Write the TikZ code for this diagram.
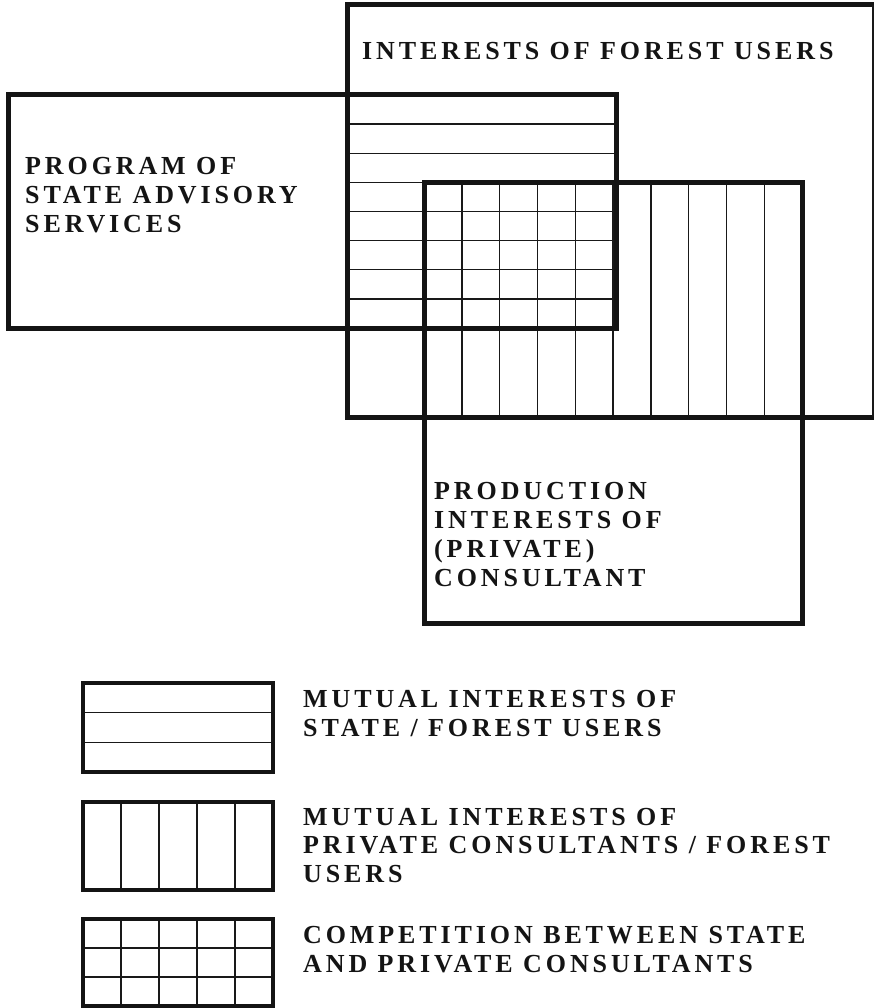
\documentclass[tikz,border=0pt]{standalone}
\usepackage{fontspec}
\newfontfamily\lblfont[LetterSpace=15]{Liberation Serif}
\begin{document}
\begin{tikzpicture}[x=1pt,y=-1pt,
  frame/.style={line width=5pt, draw=black!92},
  keyframe/.style={line width=3.6pt, draw=black!92},
  hatch/.style={line width=1.4pt, draw=black!90},
  lbl/.style={anchor=base west, inner sep=0pt, text=black!92,
    font=\lblfont\bfseries\fontsize{26}{29}\selectfont}]
\useasboundingbox (0,0) rectangle (874,1008);

% corners of the three overlapping areas
\coordinate (forestNW) at (347,5);   \coordinate (forestSE) at (879,417);
\coordinate (stateNW)  at (8,95);    \coordinate (stateSE)  at (616,328);
\coordinate (privNW)   at (424,183); \coordinate (privSE)   at (802,623);

% horizontal hatching: state / forest users
\foreach \k in {1,...,7}
  \draw[hatch] (347,95+\k*29.125) -- (616,95+\k*29.125);
% vertical hatching: private consultants / forest users
\foreach \k in {1,...,9}
  \draw[hatch] (424+\k*37.8,183) -- (424+\k*37.8,417);

% outlines
\draw[frame] (forestNW) rectangle (forestSE);
\draw[hatch] (873,5) -- (873,417);
\draw[frame] (stateNW) rectangle (stateSE);
\draw[frame] (privNW) rectangle (privSE);

% area titles
\node[lbl] (forestT) at (362,60) {INTERESTS OF FOREST USERS};
\node[lbl] (stateT1) at (25,175) {PROGRAM OF};
\node[lbl] (stateT2) at (25,204) {STATE ADVISORY};
\node[lbl] (stateT3) at (25,233) {SERVICES};
\node[lbl] (privT1) at (434,499) {PRODUCTION};
\node[lbl] (privT2) at (434,528) {INTERESTS OF};
\node[lbl] (privT3) at (434,557) {(PRIVATE)};
\node[lbl] (privT4) at (434,586) {CONSULTANT};

% key: horizontal hatching
\coordinate (keyA1) at (83,683); \coordinate (keyA2) at (273,772);
\foreach \y in {712.7,742.3} \draw[hatch] (83,\y) -- (273,\y);
\draw[keyframe] (keyA1) rectangle (keyA2);
\node[lbl] (keyAT1) at (303,707) {MUTUAL INTERESTS OF};
\node[lbl] (keyAT2) at (303,736) {STATE / FOREST USERS};

% key: vertical hatching
\coordinate (keyB1) at (83,802); \coordinate (keyB2) at (273,890);
\foreach \x in {121,159,197,235} \draw[hatch] (\x,802) -- (\x,890);
\draw[keyframe] (keyB1) rectangle (keyB2);
\node[lbl] (keyBT1) at (303,825) {MUTUAL INTERESTS OF};
\node[lbl] (keyBT2) at (303,853) {PRIVATE CONSULTANTS / FOREST};
\node[lbl] (keyBT3) at (303,882) {USERS};

% key: grid
\coordinate (keyC1) at (83,919); \coordinate (keyC2) at (273,1006);
\foreach \x in {121,159,197,235} \draw[hatch] (\x,919) -- (\x,1006);
\foreach \y in {948,977} \draw[hatch] (83,\y) -- (273,\y);
\draw[keyframe] (keyC1) rectangle (keyC2);
\node[lbl] (keyCT1) at (303,943) {COMPETITION BETWEEN STATE};
\node[lbl] (keyCT2) at (303,972) {AND PRIVATE CONSULTANTS};
\end{tikzpicture}
\end{document}
